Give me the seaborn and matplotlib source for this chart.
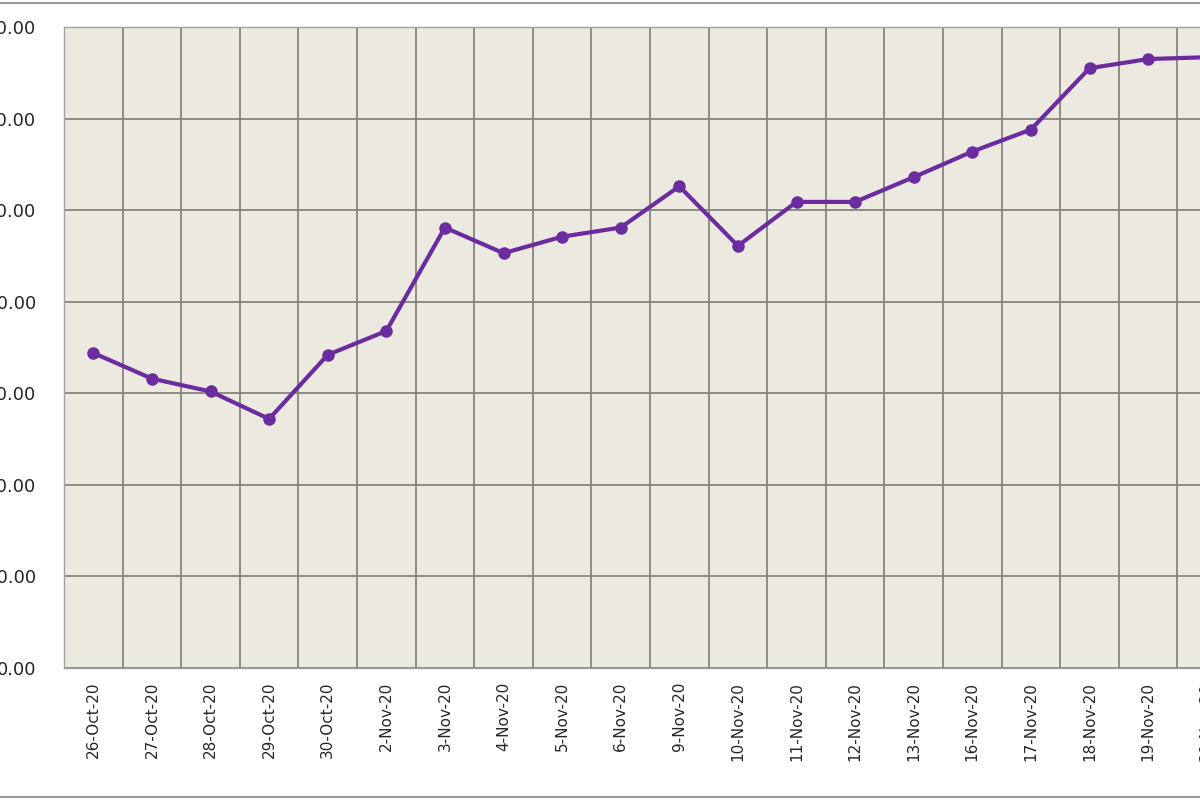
import numpy as np
import pandas as pd
import seaborn as sns
import matplotlib
matplotlib.use("Agg")
import matplotlib.pyplot as plt
from matplotlib.lines import Line2D

dates = ["26-Oct-20", "27-Oct-20", "28-Oct-20", "29-Oct-20", "30-Oct-20",
         "2-Nov-20", "3-Nov-20", "4-Nov-20", "5-Nov-20", "6-Nov-20",
         "9-Nov-20", "10-Nov-20", "11-Nov-20", "12-Nov-20", "13-Nov-20",
         "16-Nov-20", "17-Nov-20", "18-Nov-20", "19-Nov-20", "20-Nov-20"]
values = [344, 316, 302, 272, 342, 368, 481, 453, 471, 481,
          526, 461, 509, 509, 536, 564, 588, 655, 665, 667]
y_ticks = [0, 100, 200, 300, 400, 500, 600, 700]

df = pd.DataFrame({"pos": np.arange(len(dates)), "value": values})

sns.set_style("white")
fig = plt.figure(figsize=(12, 8), dpi=100)
ax = fig.add_axes([64 / 1200, 132 / 800, 1172 / 1200, 641 / 800])
ax.set_facecolor("#eceae0")

sns.lineplot(data=df, x="pos", y="value", ax=ax, color="#6b2c9f",
             linewidth=3, marker="o", markersize=9, markeredgewidth=0)

ax.set_xlim(-0.5, len(dates) - 0.5)
ax.set_ylim(0, 700)
ax.set_yticks(y_ticks)
ax.set_yticklabels([f"{v:.2f}" for v in y_ticks], fontsize=13,
                   fontfamily="DejaVu Sans")
ax.set_xticks(np.arange(len(dates)) + 0.5, minor=False)
ax.set_xticks(np.arange(len(dates)), minor=True)
ax.set_xticklabels([])
ax.set_xticklabels(dates, minor=True, rotation=90, fontsize=11,
                   fontfamily="DejaVu Sans")
ax.tick_params(axis="x", which="both", length=0, pad=10)
ax.tick_params(axis="y", length=0, pad=20)
ax.grid(True, which="major", color="#85857d", linewidth=1.3)
ax.set_axisbelow(True)
ax.set_xlabel("")
ax.set_ylabel("")
for s in ax.spines.values():
    s.set_color("#a0a0a0")
    s.set_linewidth(1)

# outer frame lines
fig.add_artist(Line2D([0, 1], [1 - 3 / 800, 1 - 3 / 800], color="#9a9a9a", linewidth=1.5))
fig.add_artist(Line2D([0, 1], [3 / 800, 3 / 800], color="#9a9a9a", linewidth=1.5))

fig.savefig("out.png", dpi=100)
